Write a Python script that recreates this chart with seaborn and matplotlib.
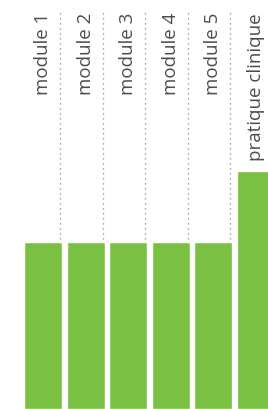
import matplotlib
matplotlib.use("Agg")
import matplotlib.pyplot as plt
import seaborn as sns
import pandas as pd

categories = ["module 1", "module 2", "module 3", "module 4", "module 5", "pratique clinique"]
values = [70, 70, 70, 70, 70, 100]

sns.set_style("white")
plt.rcParams['font.family'] = ['Open Sans', 'DejaVu Sans']

W, H = 268, 409
fig = plt.figure(figsize=(W / 100, H / 100), dpi=100)
ax = fig.add_axes([0, 0, 1, 1])

df = pd.DataFrame({"cat": categories, "val": values})
sns.barplot(data=df, x="cat", y="val", color="#7ac143", saturation=1,
            width=0.89, ax=ax, zorder=3)

pitch = 42.6
c0 = 43.0
ax.set_xlim(-c0 / pitch, (W - c0) / pitch)
ax.set_ylim(0, 100 * H / 238)

# dotted separators
top_y = (H - 10) / H
for i in range(len(categories) - 1):
    ax.axvline(i + 0.40, ymin=0, ymax=top_y, color="#888888", lw=0.9,
               linestyle=(0, (1, 3)), zorder=1)

for i, c in enumerate(categories):
    ax.text(i, 1 - 13 / H, c, transform=ax.get_xaxis_transform(),
            rotation=90, ha="center", va="top", fontsize=13.5,
            color="#4d4d4d", zorder=4)

ax.set_axis_off()
fig.savefig("out.png", dpi=100)
